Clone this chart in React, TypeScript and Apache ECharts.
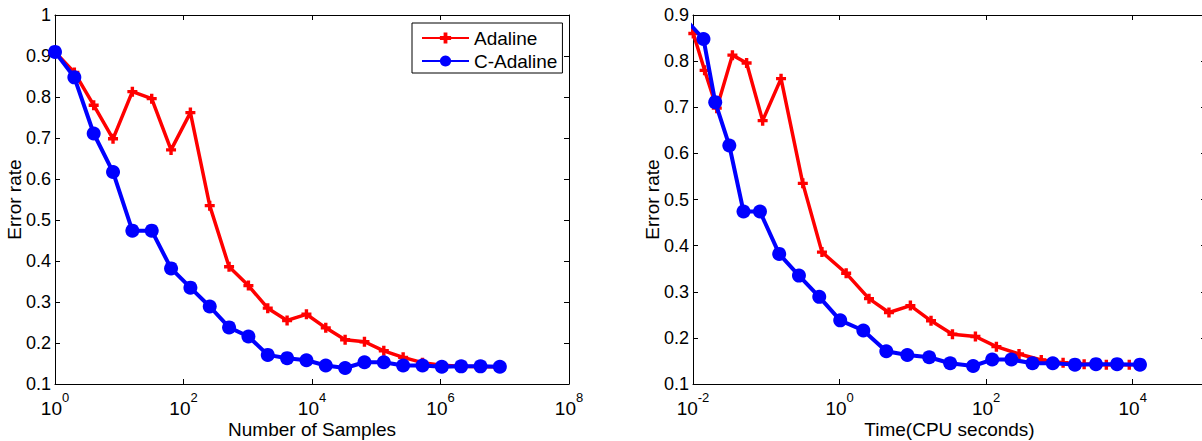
import React, { useEffect, useRef } from "react";
import * as echarts from "echarts";

// ---- data ----
const seriesNames = ["Adaline", "C-Adaline"];
// left plot: number of samples = 2^k, k = 0..23
const sampleExponents = [0, 1, 2, 3, 4, 5, 6, 7, 8, 9, 10, 11, 12, 13, 14, 15, 16, 17, 18, 19, 20, 21, 22, 23];
const adalineError = [0.91, 0.86, 0.78, 0.698, 0.813, 0.796, 0.671, 0.762, 0.535, 0.386, 0.34, 0.285, 0.255, 0.27, 0.237, 0.208, 0.203, 0.181, 0.165, 0.152, 0.146, 0.143, 0.142, 0.142];
const cAdalineError = [0.91, 0.848, 0.711, 0.617, 0.474, 0.474, 0.382, 0.335, 0.289, 0.238, 0.216, 0.171, 0.163, 0.158, 0.145, 0.139, 0.153, 0.153, 0.145, 0.145, 0.142, 0.143, 0.143, 0.142];
// right plot: CPU time (seconds)
const adalineTime = [0.007, 0.0101, 0.0144, 0.0211, 0.0345, 0.0539, 0.0892, 0.159, 0.315, 0.575, 1.23, 2.52, 4.72, 9.25, 17.7, 34.7, 71.4, 138, 281, 565, 1122, 2174, 4365, 8974];
const cAdalineTime = [0.0061, 0.0139, 0.0201, 0.0313, 0.0489, 0.082, 0.15, 0.279, 0.528, 1.02, 2.11, 4.34, 8.4, 16.7, 32.3, 66.4, 121, 221, 429, 811, 1627, 3152, 6107, 12560];

const leftXLabel = "Number of Samples";
const rightXLabel = "Time(CPU seconds)";
const yLabel = "Error rate";

const FONT = "'Liberation Sans', Arial, Helvetica, sans-serif";
const RED = "#ff0000";
const BLUE = "#0000ff";
const PLUS = "path://M3.3,0H6.7V3.3H10V6.7H6.7V10H3.3V6.7H0V3.3H3.3Z";

const supFormatter = (v: number) => {
  const e = Math.round(Math.log10(v));
  return `{b|10}{s|${e}}`;
};
const supRich = {
  b: { fontSize: 19, fontFamily: FONT, color: "#000", lineHeight: 20 },
  s: { fontSize: 13, fontFamily: FONT, color: "#000", lineHeight: 14, padding: [0, 0, 22, 0] },
};
const yFmt = (v: number) => String(Number(v.toFixed(1)));

export default function App() {
  const ref = useRef<HTMLDivElement>(null);
  useEffect(() => {
    document.body.style.margin = "0";
    document.body.style.overflow = "hidden";
    const chart = echarts.init(ref.current!, null, { renderer: "svg" });

    const axisLine = { show: true, lineStyle: { color: "#000", width: 1 } };
    const tick = { show: true, inside: true, length: 5, lineStyle: { color: "#000" } };

    const mkX = (gridIndex: number, min: number, max: number, name: string) => [
      {
        type: "log", gridIndex, min, max, logBase: 10, interval: 2,
        position: "bottom",
        name, nameLocation: "middle", nameGap: 36, nameMoveOverlap: false,
        nameTextStyle: { fontSize: 19, fontFamily: FONT, color: "#000" },
        axisLine, axisTick: tick, splitLine: { show: false }, minorTick: { show: false },
        axisLabel: { show: true, margin: 14, formatter: supFormatter, rich: supRich, showMaxLabel: gridIndex === 0 },
      },
      {
        type: "log", gridIndex, min, max, logBase: 10, interval: 2, position: "top",
        axisLine, axisTick: tick, splitLine: { show: false }, axisLabel: { show: false },
      },
    ];
    const mkY = (gridIndex: number, max: number) => [
      {
        type: "value", gridIndex, min: 0.1, max, interval: 0.1, position: "left",
        name: yLabel, nameLocation: "middle", nameGap: 31, nameRotate: 90, nameMoveOverlap: false,
        nameTextStyle: { fontSize: 19, fontFamily: FONT, color: "#000" },
        axisLine, axisTick: tick, splitLine: { show: false },
        axisLabel: { fontSize: 18, fontFamily: FONT, color: "#000", margin: 4, formatter: yFmt },
      },
      {
        type: "value", gridIndex, min: 0.1, max, interval: 0.1, position: "right",
        axisLine, axisTick: tick, splitLine: { show: false }, axisLabel: { show: false },
      },
    ];

    const mkSeries = (xIdx: number, yIdx: number, xs: number[], ys: number[], which: number) => ({
      type: "line",
      name: seriesNames[which],
      xAxisIndex: xIdx,
      yAxisIndex: yIdx,
      data: xs.map((x, i) => [x, ys[i]]),
      symbol: which === 0 ? PLUS : "circle",
      symbolSize: which === 0 ? 10 : 14,
      showAllSymbol: true,
      clip: true,
      lineStyle: { color: which === 0 ? RED : BLUE, width: which === 0 ? 3.5 : 4 },
      itemStyle: { color: which === 0 ? RED : BLUE, borderWidth: 0 },
      emphasis: { disabled: true },
      z: which === 0 ? 2 : 3,
    });

    const leftX = sampleExponents.map((k) => Math.pow(2, k));

    chart.setOption({
      animation: false,
      grid: [
        { left: 55, right: 633, top: 15, bottom: 57, outerBoundsMode: "none", containLabel: false },
        { left: 693, right: -4, top: 15, bottom: 57, outerBoundsMode: "none", containLabel: false },
      ],
      xAxis: [...mkX(0, 1, 1e8, leftXLabel), ...mkX(1, 0.01, 1e5, rightXLabel)],
      yAxis: [...mkY(0, 1), ...mkY(1, 0.9)],
      legend: {
        data: seriesNames,
        orient: "vertical",
        left: 412,
        top: 23,
        itemWidth: 47,
        itemHeight: 14,
        itemGap: 3,
        padding: [5, 5, 2, 9],
        borderColor: "#000",
        borderWidth: 1,
        backgroundColor: "#fff",
        textStyle: { fontSize: 19, fontFamily: FONT, color: "#000", lineHeight: 20 },
      },
      series: [
        mkSeries(0, 0, leftX, adalineError, 0),
        mkSeries(0, 0, leftX, cAdalineError, 1),
        mkSeries(2, 2, adalineTime, adalineError, 0),
        mkSeries(2, 2, cAdalineTime, cAdalineError, 1),
      ],
    });
    return () => chart.dispose();
  }, []);
  return <div ref={ref} style={{ width: 1202, height: 441 }} />;
}
